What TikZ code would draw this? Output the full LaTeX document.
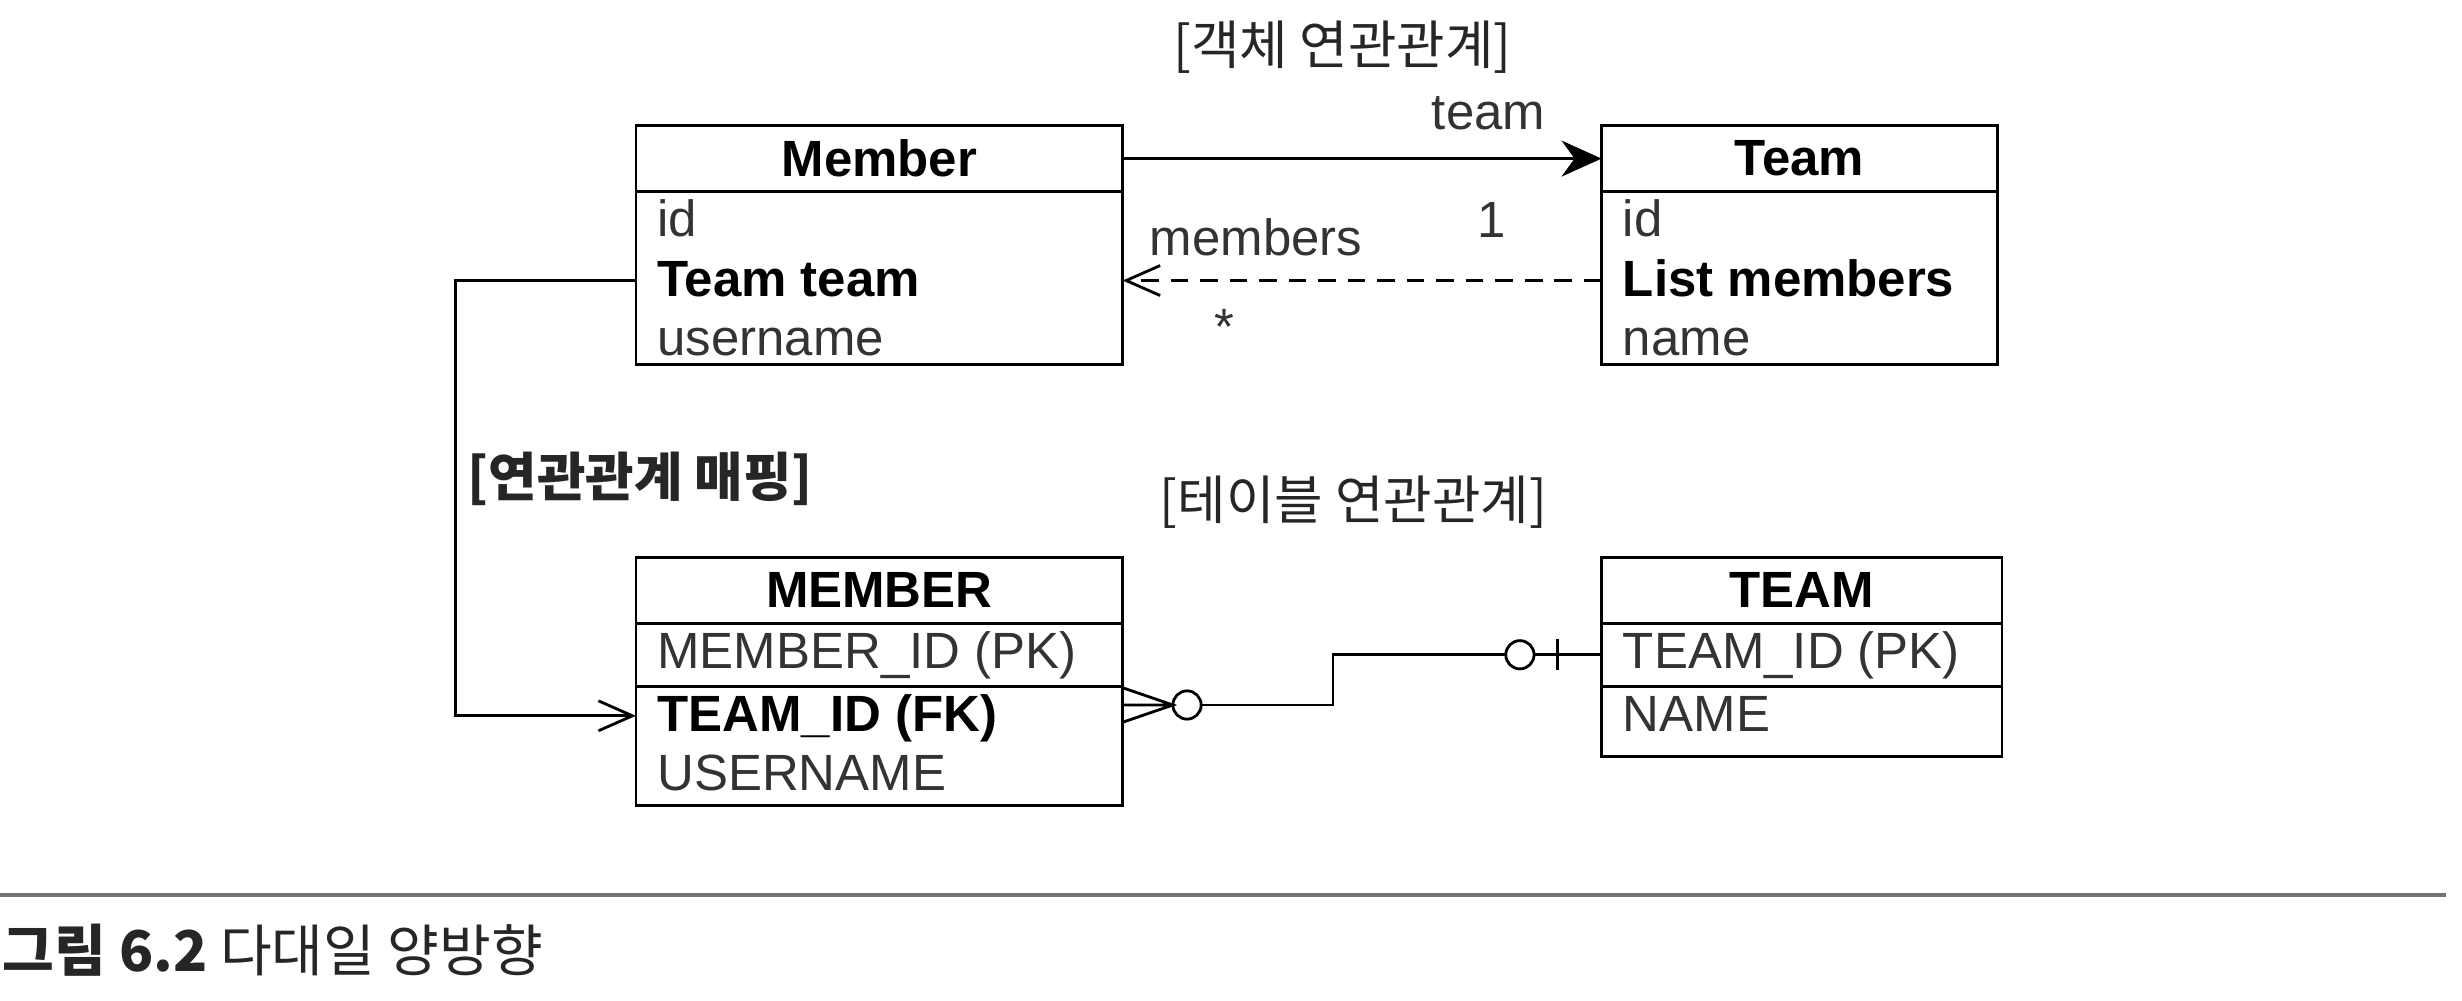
\documentclass[tikz,border=0pt]{standalone}
\usepackage{fontspec}
\setmainfont{Liberation Sans}
\newfontfamily\krfont{Noto Sans CJK KR}
\usetikzlibrary{positioning}
\usetikzlibrary{calc}
\usetikzlibrary{arrows.meta}
\newcommand{\pxunit}{0.15702mm}
\newcommand{\diagramfont}{\fontsize{14.5}{16}\selectfont}
\tikzstyle{entity} = [draw, line width=0.8pt, outer sep=0pt, inner sep=0pt, anchor=north west]
\tikzstyle{solidhead} = [-{Stealth[length=4mm,width=3.6mm,inset=1.3mm]}]
\tikzstyle{openhead} = [-{Straight Barb[length=3.4mm,width=3mm,line width=0.8pt]}]

\begin{document}
\begin{tikzpicture}[x=\pxunit,y=-\pxunit,line width=0.8pt,
      header/.style={entity,font=\diagramfont\bfseries,minimum height=42*\pxunit},
      part/.style={entity},
      row/.style={inner xsep=0.2cm,inner ysep=0pt,text height=0.44cm,text depth=0.125cm,
        anchor=north west,font=\diagramfont,text=black!80},
      boldrow/.style={row,font=\diagramfont\bfseries,text=black},
      label/.style={font=\krfont\fontsize{15}{17}\selectfont,inner sep=0pt,text=black!85},
      role/.style={font=\diagramfont,inner sep=0pt,text=black!80},
      ring/.style={circle,draw,inner sep=0pt,minimum size=18*\pxunit,outer sep=0pt}]

      \useasboundingbox (0,0) rectangle (1568,636.9);

      % object model
      \node[label] (OBJREL) at (855,30) {[객체 연관관계]};

      \node[header,minimum width=310*\pxunit] (MH) at (405,80) {Member};
      \node[part,minimum width=310*\pxunit,minimum height=110*\pxunit] (MB) [below right=0pt and 0pt of MH.south west] {};
      \node[row] (MID) at (MB.north west) {id};
      \node[boldrow] (MTEAM) [below right=0pt and 0pt of MID.south west] {Team team};
      \node[row] (MUSER) [below right=0pt and 0pt of MTEAM.south west] {username};

      \node[header,minimum width=252*\pxunit] (TH) at (1020,80) {Team};
      \node[part,minimum width=252*\pxunit,minimum height=110*\pxunit] (TB) [below right=0pt and 0pt of TH.south west] {};
      \node[row] (TID) at (TB.north west) {id};
      \node[boldrow] (TLIST) [below right=0pt and 0pt of TID.south west] {List members};
      \node[row] (TNAME) [below right=0pt and 0pt of TLIST.south west] {name};

      \node[role] (TEAMROLE) at (948,72) {team};
      \node[role] (ONE) at (950,140) {1};
      \node[role] (MEMBERSROLE) at (800,151) {members};
      \node[role] (MANY) at (780,208) {*};

      \draw[solidhead] (MH.east) -- (TH.west);
      \draw[openhead,dash pattern=on 5pt off 3.4pt] (TLIST.west) -- (MB.east |- TLIST.west);

      % mapping
      \node[label,font=\krfont\fontsize{15}{17}\selectfont\bfseries,anchor=west] (MAPPING) at (297,305) {[연관관계 매핑]};
      \node[label] (TABREL) at (862,320) {[테이블 연관관계]};

      % table model
      \node[header,minimum width=310*\pxunit] (EH) at (405,355) {MEMBER};
      \node[part,minimum width=310*\pxunit,minimum height=40*\pxunit] (EP) [below right=0pt and 0pt of EH.south west] {};
      \node[part,minimum width=310*\pxunit,minimum height=76*\pxunit] (EA) [below right=0pt and 0pt of EP.south west] {};
      \node[row] (EPK) at (EP.north west) {MEMBER\_ID (PK)};
      \node[boldrow] (EFK) at (EA.north west) {TEAM\_ID (FK)};
      \node[row] (EUSER) [below right=0pt and 0pt of EFK.south west] {USERNAME};

      \node[header,minimum width=255*\pxunit] (XH) at (1020,355) {TEAM};
      \node[part,minimum width=255*\pxunit,minimum height=40*\pxunit] (XP) [below right=0pt and 0pt of XH.south west] {};
      \node[part,minimum width=255*\pxunit,minimum height=45*\pxunit] (XA) [below right=0pt and 0pt of XP.south west] {};
      \node[row] (XPK) at (XP.north west) {TEAM\_ID (PK)};
      \node[row] (XNAME) at (XA.north west) {NAME};

      \draw[openhead] (MTEAM.west) -- ++(-115,0) |- (EFK.west);

      \coordinate (CROW) at ($(EA.north east)+(0,12)$);
      \coordinate (CROWTIP) at ($(CROW)+(32,0)$);
      \draw ($(CROW)+(0,-11)$) -- (CROWTIP) -- ($(CROW)+(0,11)$) (CROW) -- (CROWTIP);
      \node[ring] (RING1) [right=0pt of CROWTIP] {};
      \node[ring] (RING2) at ($(XP.west)+(-52,0)$) {};
      \draw (RING1.east) -- ++(84,0) |- (RING2.west);
      \draw (RING2.east) -- (XP.west);
      \draw ($(XP.west)+(-28,-10)$) -- ++(0,20);

      % caption
      \coordinate (RULEL) at (0,570);
      \coordinate (RULER) at (1558,570);
      \draw[black!55,line width=1.1pt] (RULEL) -- (RULER);
      \node[anchor=west,inner sep=0pt,font=\krfont\fontsize{16}{18}\selectfont,text=black!85] (CAPTION) at (1,605) {\textbf{그림 6.2} 다대일 양방향};
    \end{tikzpicture}
\end{document}
